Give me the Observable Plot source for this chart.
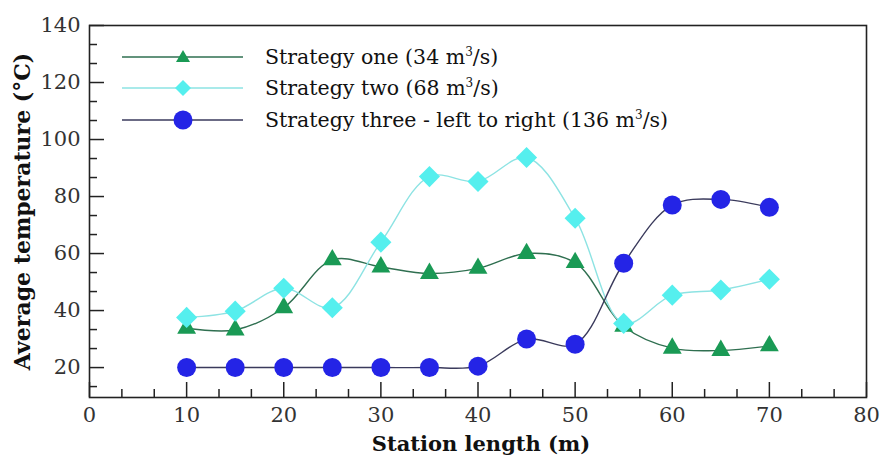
<!DOCTYPE html>
<html>
<head>
<meta charset="utf-8">
<script src="https://cdn.jsdelivr.net/npm/d3@7"></script>
<script src="https://cdn.jsdelivr.net/npm/@observablehq/plot@0.6"></script>
<style>
  html, body { margin: 0; padding: 0; background: #fff; }
  #wrap { position: relative; width: 883px; height: 457px; font-family: "DejaVu Serif", serif; }
  .leg { position: absolute; left: 115px; height: 30px; display: flex; align-items: center; font-size: 20.5px; color: #111; white-space: nowrap; }
  .leg svg { display: block; }
  .leg span { margin-left: 15px; }
  .leg sup { font-size: 12px; vertical-align: 8px; line-height: 0; }
</style>
</head>
<body>
<div id="wrap"></div>
<script>
// Data
const stationLength = [10, 15, 20, 25, 30, 35, 40, 45, 50, 55, 60, 65, 70];
const strategyOne   = [33.8, 33.2, 41, 57.8, 55.3, 53, 54.8, 60, 56.8, 34.5, 26.8, 26, 27.6];
const strategyTwo   = [37.6, 39.8, 47.8, 41, 64, 87, 85.3, 93.7, 72.4, 35.5, 45.4, 47.2, 51];
const strategyThree = [20, 20, 20, 20, 20, 20, 20.5, 30, 28.2, 56.6, 77, 79, 76.2];
const seriesNames = ["Strategy one", "Strategy two", "Strategy three - left to right"];
const seriesFlows = ["34", "68", "136"];
const xTicks = [0, 10, 20, 30, 40, 50, 60, 70, 80];
const yTicks = [20, 40, 60, 80, 100, 120, 140];
const xLabel = "Station length (m)";
const yLabel = "Average temperature (\u00B0C)";

const xMinor = d3.range(0, 80.01, 10 / 3).filter(v => Math.abs(v / 10 - Math.round(v / 10)) > 1e-6);
const yMinor = d3.range(20 - 20 / 3, 140.01, 20 / 3).filter(v => Math.abs(v / 20 - Math.round(v / 20)) > 1e-6);

const styles = [
  {line: "#2f6f50", fill: "#1a9a55", symbol: "triangle", r: 7},
  {line: "#8de3e3", fill: "#55efee", symbol: "diamond2", r: 9.5},
  {line: "#3a3a5c", fill: "#2424e6", symbol: "circle", r: 9.5}
];
const values = [strategyOne, strategyTwo, strategyThree];
const tables = values.map(v => stationLength.map((x, i) => ({x, y: v[i]})));

const marks = [];
tables.forEach((t, k) => {
  marks.push(Plot.line(t, {x: "x", y: "y", curve: "catmull-rom", stroke: styles[k].line, strokeWidth: 1.4}));
});
tables.forEach((t, k) => {
  marks.push(Plot.dot(t, {x: "x", y: "y", symbol: styles[k].symbol, r: styles[k].r, fill: styles[k].fill, stroke: "none"}));
});

const chart = Plot.plot({
  width: 883,
  height: 457,
  marginLeft: 89,
  marginRight: 17,
  marginTop: 25,
  marginBottom: 60,
  style: {fontFamily: "'DejaVu Serif', serif", fontSize: "21px", color: "#222", background: "#fff"},
  x: {domain: [0, 80]},
  y: {domain: [9.5, 140]},
  marks: [
    Plot.axisX(xTicks, {tickSize: -15, tickPadding: 25, strokeWidth: 1.5, label: null, fontSize: 21, fill: "#333"}),
    Plot.axisX(xMinor, {tickSize: -8, tickFormat: () => "", strokeWidth: 1.5, label: null}),
    Plot.axisY(yTicks, {tickSize: -15, tickPadding: 24, strokeWidth: 1.5, label: null, fontSize: 21, fill: "#333"}),
    Plot.axisY(yMinor, {tickSize: -8, tickFormat: () => "", strokeWidth: 1.5, label: null}),
    ...marks,
    Plot.frame({stroke: "#222", strokeWidth: 1.6}),
    Plot.text([xLabel], {frameAnchor: "bottom", dy: 47, dx: 3, textAnchor: "middle", lineAnchor: "middle", fontWeight: "bold", fontSize: 21, fill: "#111"}),
    Plot.text([yLabel], {frameAnchor: "left", dx: -67, dy: 0, rotate: -90, textAnchor: "middle", lineAnchor: "middle", fontWeight: "bold", fontSize: 22, fill: "#111"})
  ]
});

const wrap = document.getElementById("wrap");
wrap.appendChild(chart);

// Legend overlay
const rowCenters = [57, 88, 120];
seriesNames.forEach((name, k) => {
  const row = document.createElement("div");
  row.className = "leg";
  row.style.top = (rowCenters[k] - 15) + "px";
  const s = styles[k];
  let marker;
  if (s.symbol === "triangle") marker = `<path d="M68,${15 - 7} L75,${15 + 5} L61,${15 + 5} Z" fill="${s.fill}"/>`;
  else if (s.symbol === "diamond2") marker = `<path d="M68,${15 - 8} L76,15 L68,${15 + 8} L60,15 Z" fill="${s.fill}"/>`;
  else marker = `<circle cx="68" cy="15" r="9.5" fill="${s.fill}"/>`;
  row.innerHTML = `<svg width="135" height="30"><line x1="7" x2="128" y1="15" y2="15" stroke="${s.line}" stroke-width="1.6"/>${marker}</svg><span>${name} (${seriesFlows[k]} m<sup>3</sup>/s)</span>`;
  wrap.appendChild(row);
});
</script>
</body>
</html>
